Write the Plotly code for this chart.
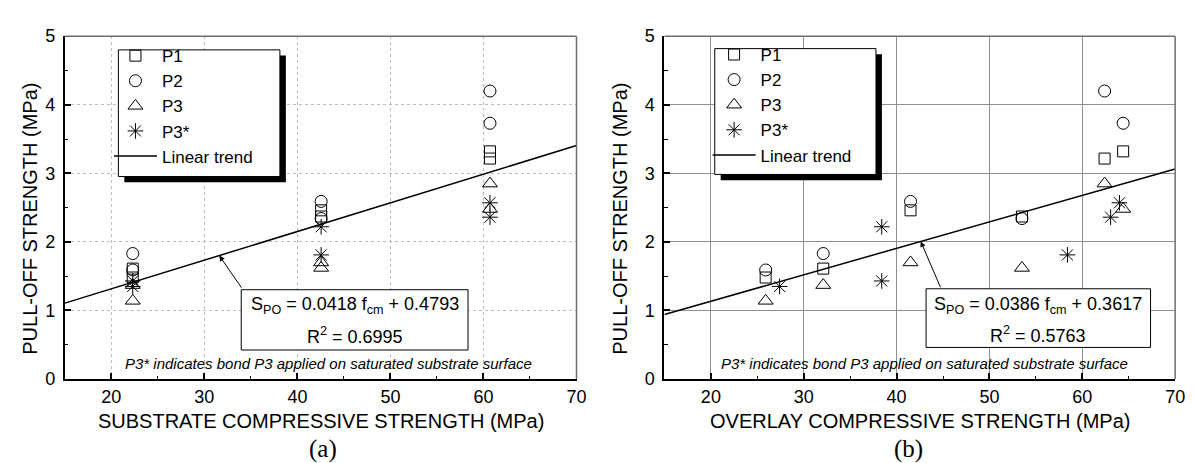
import plotly.graph_objects as go

# ---------------- data ----------------
# (a) substrate compressive strength
sub_x_p1 = [22.3, 22.3, 42.55, 42.55, 60.7, 60.7]
sub_x_p2 = [22.3, 22.3, 42.55, 42.55, 60.7, 60.7]
sub_x_p3 = [22.3, 22.3, 42.55, 42.55, 60.7, 60.7]
sub_x_p3s = [22.3, 22.3, 42.55, 42.55, 60.7, 60.7]
# (b) overlay compressive strength
ovl_x_p1 = [25.9, 32.1, 41.5, 53.5, 62.4, 64.4]
ovl_x_p2 = [25.9, 32.1, 41.5, 53.5, 62.4, 64.4]
ovl_x_p3 = [25.9, 32.1, 41.5, 53.5, 62.4, 64.4]
ovl_x_p3s = [27.4, 38.4, 38.4, 58.4, 63.05, 64.0]
# pull-off strength (MPa)
y_p1 = [1.48, 1.61, 2.46, 2.37, 3.215, 3.32]
y_p2 = [1.59, 1.83, 2.59, 2.34, 4.20, 3.73]
y_p3 = [1.14, 1.37, 1.70, 1.62, 2.85, 2.48]
y_p3s = [1.35, 1.43, 2.22, 1.81, 2.36, 2.57]

# linear trends (coefficients as printed)
trend_a = {"slope": 0.0418, "intercept": 0.4793, "r2": "0.6995"}
trend_b = {"slope": 0.0386, "intercept": 0.3617, "r2": "0.5763"}
trend_x = [15, 70]

series_names = ["P1", "P2", "P3", "P3*"]
x_ticks = [20, 30, 40, 50, 60, 70]
y_ticks = [0, 1, 2, 3, 4, 5]

# ---------------- layout helpers ----------------
W, H = 1195, 463
FONT = "Liberation Sans, Arial, sans-serif"


def px(x):
    return x / W


def py(y):
    return 1 - y / H


symbols = ["square-open", "circle-open", "triangle-up-open", "asterisk-open"]
sizes = [11, 12, 13, 13]

fig = go.Figure()

panels = [
    dict(xs=[sub_x_p1, sub_x_p2, sub_x_p3, sub_x_p3s], trend=trend_a, xa="x", ya="y", legend="legend"),
    dict(xs=[ovl_x_p1, ovl_x_p2, ovl_x_p3, ovl_x_p3s], trend=trend_b, xa="x2", ya="y2", legend="legend2"),
]
ys = [y_p1, y_p2, y_p3, y_p3s]

for p in panels:
    for name, xv, yv, sym, sz in zip(series_names, p["xs"], ys, symbols, sizes):
        fig.add_trace(go.Scatter(
            x=xv, y=yv, mode="markers", name=name,
            xaxis=p["xa"], yaxis=p["ya"], legend=p["legend"],
            marker=dict(symbol=sym, size=sz, color="black",
                        line=dict(color="black", width=1)),
        ))
    t = p["trend"]
    fig.add_trace(go.Scatter(
        x=trend_x, y=[t["slope"] * v + t["intercept"] for v in trend_x],
        mode="lines", name="Linear trend",
        xaxis=p["xa"], yaxis=p["ya"], legend=p["legend"],
        line=dict(color="black", width=1.5),
    ))

dom_a = [px(57.3), px(573.3)]
dom_b = [px(662), px(1177)]
dom_y = [py(377.3), py(19)]


def xaxis(domain, anchor):
    return dict(domain=domain, anchor=anchor, range=[15, 70], tickvals=x_ticks,
                ticks="inside", ticklen=6, tickwidth=1.5, tickcolor="black",
                showline=True, linecolor="black", linewidth=2,
                tickfont=dict(family=FONT, size=18, color="black"),
                minor=dict(dtick=5, tick0=0, ticks="inside", ticklen=3.5, tickwidth=1.2,
                           tickcolor="black", showgrid=False),
                zeroline=False, ticklabelstandoff=0)


def yaxis(anchor):
    return dict(domain=dom_y, anchor=anchor, range=[0, 5], tickvals=y_ticks,
                ticks="inside", ticklen=6, tickwidth=1.5, tickcolor="black",
                showline=True, linecolor="black", linewidth=2,
                tickfont=dict(family=FONT, size=18, color="black"),
                minor=dict(dtick=0.5, tick0=0, ticks="inside", ticklen=3.5, tickwidth=1.2,
                           tickcolor="black", showgrid=False),
                zeroline=False, ticklabelstandoff=4)


xa1 = xaxis(dom_a, "y")
ya1 = yaxis("x")
xa2 = xaxis(dom_b, "y2")
ya2 = yaxis("x2")
for a in (xa1, ya1):
    a.update(showgrid=True, gridcolor="#bdbdbd", gridwidth=1, griddash="dot")
for a in (xa2, ya2):
    a.update(showgrid=True, gridcolor="#8f8f8f", gridwidth=1)

shapes = []
annotations = []

# top/right frame edges (grey)
for xr, yr in (("x domain", "y domain"), ("x2 domain", "y2 domain")):
    shapes.append(dict(type="line", xref=xr, yref=yr, x0=0, x1=1, y0=1, y1=1,
                       line=dict(color="#6e6e6e", width=1.5)))
    shapes.append(dict(type="line", xref=xr, yref=yr, x0=1, x1=1, y0=0, y1=1,
                       line=dict(color="#6e6e6e", width=1.5)))

# legend boxes with shadow
legend_boxes = [(111.3, 33.3, 274.2, 165.7), (712.7, 32.0, 875.3, 163.5)]
for (l, t, r, b) in legend_boxes:
    shapes.append(dict(type="rect", xref="paper", yref="paper",
                       x0=px(l + 6), x1=px(r + 6), y0=py(b + 6), y1=py(t + 6),
                       fillcolor="black", line=dict(width=0)))
    shapes.append(dict(type="rect", xref="paper", yref="paper",
                       x0=px(l), x1=px(r), y0=py(b), y1=py(t),
                       fillcolor="white", line=dict(color="black", width=1)))

# equation boxes
eq_boxes = [(235.2, 284.0, 463.9, 347.0), (925.8, 283.0, 1152.2, 344.3)]
eq_text = [trend_a, trend_b]
for (l, t, r, b), tr in zip(eq_boxes, eq_text):
    shapes.append(dict(type="rect", xref="paper", yref="paper",
                       x0=px(l), x1=px(r), y0=py(b), y1=py(t),
                       fillcolor="white", line=dict(color="black", width=1)))
    cx = (l + r) / 2
    annotations.append(dict(
        xref="paper", yref="paper", x=px(cx), y=py(t + 17), showarrow=False,
        xanchor="center", yanchor="middle",
        text=f"S<sub>PO</sub> = {tr['slope']:.4f} f<sub>cm</sub> + {tr['intercept']:.4f}",
        font=dict(family=FONT, size=18, color="black")))
    annotations.append(dict(
        xref="paper", yref="paper", x=px(cx), y=py(t + 48), showarrow=False,
        xanchor="center", yanchor="middle",
        text=f"R<sup>2</sup> = {tr['r2']}",
        font=dict(family=FONT, size=18, color="black")))

# arrows from box to trend line
arrow_specs = [("x", "y", trend_a, 31.6, 34.1, 1.31), ("x2", "y2", trend_b, 42.6, 44.8, 1.316)]
for xr, yr, tr, hx, tx, ty in arrow_specs:
    annotations.append(dict(
        xref=xr, yref=yr, x=hx, y=tr["slope"] * hx + tr["intercept"],
        axref=xr, ayref=yr, ax=tx, ay=ty, text="", showarrow=True,
        arrowhead=2, arrowsize=1.1, arrowwidth=1, arrowcolor="black", standoff=0))

# notes
note = "P3* indicates bond P3 applied on saturated substrate surface"
for cx in (323.0, 924.7):
    annotations.append(dict(xref="paper", yref="paper", x=px(cx), y=py(361), showarrow=False,
                            xanchor="center", yanchor="middle", text=f"<i>{note}</i>",
                            font=dict(family=FONT, size=15, color="black")))

# axis titles
for cx, txt in ((315.3, "SUBSTRATE COMPRESSIVE STRENGTH (MPa)"),
                (919.5, "OVERLAY COMPRESSIVE STRENGTH (MPa)")):
    annotations.append(dict(xref="paper", yref="paper", x=px(cx), y=py(421.5), showarrow=False,
                            xanchor="center", yanchor="middle", text=txt,
                            font=dict(family=FONT, size=20, color="black")))
for cx in (22.0, 617.0):
    annotations.append(dict(xref="paper", yref="paper", x=px(cx), y=py(210), showarrow=False,
                            xanchor="center", yanchor="middle", textangle=-90,
                            text="PULL-OFF STRENGTH (MPa)",
                            font=dict(family=FONT, size=20, color="black")))
for cx, lab in ((317.4, "(a)"), (908.6, "(b)")):
    annotations.append(dict(xref="paper", yref="paper", x=px(cx), y=py(450), showarrow=False,
                            xanchor="center", yanchor="middle", text=lab,
                            font=dict(family="Liberation Serif, Times New Roman, serif",
                                      size=25, color="black")))

leg_common = dict(bgcolor="rgba(0,0,0,0)", borderwidth=0, itemwidth=43,
                  font=dict(family=FONT, size=17, color="black"),
                  xanchor="left", yanchor="top", tracegroupgap=0)

fig.update_layout(
    width=W, height=H, margin=dict(l=0, r=0, t=0, b=0),
    paper_bgcolor="white", plot_bgcolor="white",
    xaxis=xa1, yaxis=ya1, xaxis2=xa2, yaxis2=ya2,
    shapes=shapes, annotations=annotations,
    showlegend=True,
    legend=dict(x=px(101.8), y=py(21.0), **leg_common),
    legend2=dict(x=px(705.5), y=py(19.8), **leg_common),
)

fig.write_html("out.html")
